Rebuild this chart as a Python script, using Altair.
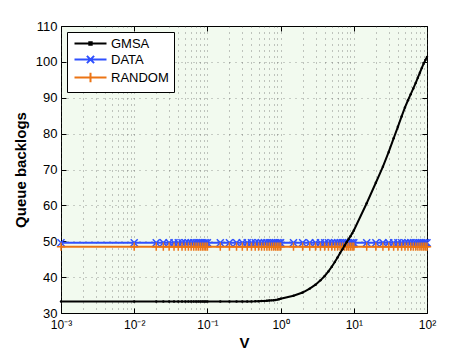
import altair as alt
import pandas as pd

# ---------------- data ----------------
V = [0.001,
     0.01, 0.02, 0.025, 0.03, 0.035, 0.04, 0.045, 0.05, 0.055, 0.06, 0.065, 0.07, 0.075, 0.08, 0.085, 0.09, 0.095,
     0.1, 0.15, 0.2, 0.25, 0.3, 0.35, 0.4, 0.45, 0.5, 0.55, 0.6, 0.65, 0.7, 0.75, 0.8, 0.85, 0.9, 0.95,
     1, 1.5, 2, 2.5, 3, 3.5, 4, 4.5, 5, 5.5, 6, 6.5, 7, 7.5, 8, 8.5, 9, 9.5,
     10, 15, 20, 25, 30, 35, 40, 45, 50, 55, 60, 65, 70, 75, 80, 85, 90, 95, 100]

GMSA = [33.2,
        33.2, 33.2, 33.2, 33.2, 33.2, 33.2, 33.2, 33.2, 33.2, 33.2, 33.2, 33.2, 33.2, 33.2, 33.2, 33.2, 33.2,
        33.2, 33.2, 33.2, 33.2, 33.2, 33.22, 33.24, 33.26, 33.3, 33.33, 33.37, 33.41, 33.46, 33.52, 33.58, 33.65, 33.73, 33.82,
        33.95, 34.8, 35.7, 36.8, 37.9, 39.1, 40.3, 41.6, 42.9, 44.2, 45.5, 46.7, 47.8, 48.8, 49.8, 50.6, 51.4, 52.2,
        53.0, 60.6, 66.3, 70.8, 74.9, 78.7, 81.9, 84.8, 87.3, 89.3, 91.0, 92.6, 94.1, 95.6, 97.0, 98.3, 99.5, 100.5, 101.4]

DATA = [49.6] * len(V)
RANDOM = [48.5] * len(V)

SERIES = ["GMSA", "DATA", "RANDOM"]
COLORS = ["#000000", "#2f50ff", "#ec7414"]
Y_TICKS = [30, 40, 50, 60, 70, 80, 90, 100, 110]
X_DECADES = [0.001, 0.01, 0.1, 1, 10, 100]
X_DECADE_LABELS = ["10\u207b\u00b3", "10\u207b\u00b2", "10\u207b\u00b9", "10\u2070", "10\u00b9", "10\u00b2"]

# ---------------- table ----------------
df = pd.DataFrame({
    "V": V * 3,
    "value": GMSA + DATA + RANDOM,
    "series": ["GMSA"] * len(V) + ["DATA"] * len(V) + ["RANDOM"] * len(V),
})

FONT = "Liberation Sans"
W, H = 366, 287
BG = "#f2faef"
color_of = dict(zip(SERIES, COLORS))

x_grid_vals = [m * d for d in X_DECADES[:-1] for m in range(1, 10)] + [X_DECADES[-1]]
label_expr = " : ".join(f"datum.value == {v} ? '{l}'" for v, l in zip(X_DECADES, X_DECADE_LABELS)) + " : ''"
decade_test = " || ".join(f"datum.value == {v}" for v in X_DECADES)

x_scale = alt.Scale(type="log", domain=[0.001, 100], nice=False)
y_scale = alt.Scale(domain=[30, 110], nice=False, zero=False)

x_axis = alt.Axis(
    values=x_grid_vals, labelExpr=label_expr, labelOverlap=False, labelFlush=False,
    grid=True, gridDash=[1, 5], gridColor="#444444", gridOpacity=0.6,
    domain=False, ticks=True, tickSize=5, tickColor="black",
    tickOpacity={"condition": {"test": decade_test, "value": 1}, "value": 0},
    offset=-5, labelPadding=6, labelFont=FONT, labelFontSize=12, labelColor="black",
    title="V", titleFont=FONT, titleFontSize=15, titleFontWeight="bold", titlePadding=5,
    titleColor="black",
)
y_axis = alt.Axis(
    values=Y_TICKS, grid=True, gridDash=[1, 5], gridColor="#444444",
    gridOpacity={"condition": {"test": "datum.value == 30 || datum.value == 110", "value": 0}, "value": 0.5},
    domain=False, ticks=True, tickSize=5, tickColor="black", offset=-5,
    labelPadding=4, labelFont=FONT, labelFontSize=13, labelColor="black",
    title="Queue backlogs", titleFont=FONT, titleFontSize=15, titleFontWeight="bold",
    titlePadding=7, titleColor="black",
)

base = alt.Chart(df)

layers = []
first = True
marker_shapes = {
    "GMSA": ("circle", True, 6, 1),
    "DATA": ("M-1,-1L1,1M-1,1L1,-1", False, 49, 1.5),
    "RANDOM": ("M0,-1V1M-1,0H1", False, 70, 1.5),
}
for s in ["DATA", "RANDOM", "GMSA"]:
    sub = base.transform_filter(alt.datum.series == s)
    xe = alt.X("V:Q", scale=x_scale, axis=x_axis if first else None)
    ye = alt.Y("value:Q", scale=y_scale, axis=y_axis if first else None)
    first = False
    line = sub.mark_line(strokeWidth=2, color=color_of[s]).encode(x=xe, y=ye)
    shp, filled, size, sw = marker_shapes[s]
    pts = sub.mark_point(shape=shp, filled=filled, size=size, strokeWidth=sw, opacity=1,
                         color=color_of[s]).encode(
        x=alt.X("V:Q", scale=x_scale, axis=None),
        y=alt.Y("value:Q", scale=y_scale, axis=None),
    )
    layers += [line, pts]

legend_paths = [
    "M-4,0H4M-0.3,-0.3H0.3V0.3H-0.3Z",
    "M-4,0H4M-0.9,-0.9L0.9,0.9M-0.9,0.9L0.9,-0.9",
    "M-4,0H4M0,-1.2V1.2",
]
legend = alt.Legend(
    title=None, orient="top-left", offset=6, strokeColor="black", fillColor="white",
    padding=5, symbolSize=64, symbolStrokeWidth=2, symbolOffset=12, labelOffset=14,
    labelFont=FONT, labelFontSize=13, labelColor="black", rowPadding=0, cornerRadius=0,
)
legend_layer = base.mark_point(filled=False, opacity=0).encode(
    x=alt.X("V:Q", scale=x_scale, axis=alt.Axis(
        orient="top", values=X_DECADES, labels=False, grid=False, domain=False,
        ticks=True, tickSize=5, tickColor="black", offset=-5, title=None)),
    y=alt.Y("value:Q", scale=y_scale, axis=alt.Axis(
        orient="right", values=Y_TICKS, labels=False, grid=False, domain=False,
        ticks=True, tickSize=5, tickColor="black", offset=-5, title=None)),
    color=alt.Color("series:N", scale=alt.Scale(domain=SERIES, range=COLORS), legend=legend),
    shape=alt.Shape("series:N", scale=alt.Scale(domain=SERIES, range=legend_paths), legend=legend),
)
layers.append(legend_layer)

chart = alt.layer(*layers).resolve_axis(x="independent", y="independent").properties(
    width=W, height=H, autosize="none",
    padding={"left": 53, "top": 18, "right": 30, "bottom": 40},
    view=alt.ViewBackground(fill=BG, stroke="black", strokeWidth=1),
).configure_view(fill=BG, stroke="black", strokeWidth=1).configure_legend(
    symbolOpacity=1
).configure(background="white")

chart.save("out.html", embed_options={"renderer": "svg", "actions": False})
